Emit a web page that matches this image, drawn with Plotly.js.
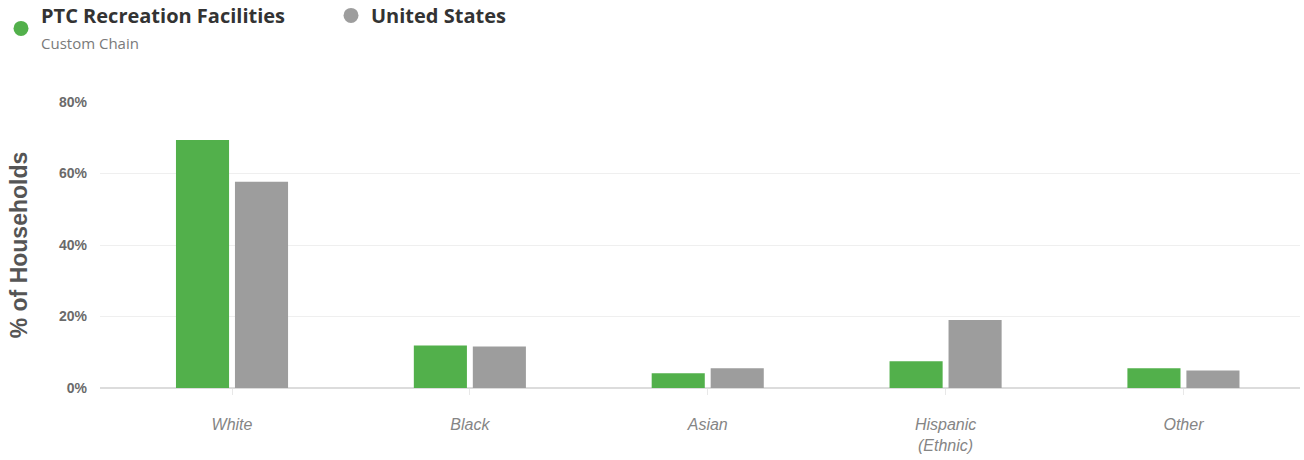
<!DOCTYPE html>
<html>
<head>
<meta charset="utf-8">
<script src="https://cdn.plot.ly/plotly-3.0.1.min.js"></script>
<style>html,body{margin:0;padding:0;background:#fff;}#chart{width:1304px;height:460px;}</style>
</head>
<body>
<div id="chart"></div>
<script>
const categories = ["White", "Black", "Asian", "Hispanic<br>(Ethnic)", "Other"];
const ptcValues = [69.4, 11.9, 4.1, 7.5, 5.5];
const usValues = [57.7, 11.6, 5.5, 19.0, 4.9];
const seriesNames = ["PTC Recreation Facilities", "United States"];
const seriesSub = ["Custom Chain", ""];
const yTickVals = [0, 20, 40, 60, 80];
const yTickText = ["0%", "20%", "40%", "60%", "80%"];

const green = "#52b04b";
const grey = "#9d9d9d";

const traces = [
  {type: "bar", x: categories, y: ptcValues, marker: {color: green}, showlegend: false, hoverinfo: "y"},
  {type: "bar", x: categories, y: usValues, marker: {color: grey}, showlegend: false, hoverinfo: "y"},
  {type: "scatter", mode: "markers", x: [null], y: [null], marker: {color: green, size: 15, symbol: "circle"},
   name: "<b>" + seriesNames[0] + "</b><br><span style='font-size:15px;font-weight:normal;color:#7a7a7a'>" + seriesSub[0] + "</span>"},
  {type: "scatter", mode: "markers", x: [null], y: [null], marker: {color: grey, size: 15, symbol: "circle"},
   name: "<b>" + seriesNames[1] + "</b>"}
];

const layout = {
  width: 1304, height: 460,
  margin: {l: 100, r: 4, t: 102, b: 72, autoexpand: false},
  paper_bgcolor: "#fff", plot_bgcolor: "#fff",
  barmode: "group", bargap: 0.504, bargroupgap: 0.1,
  font: {family: "Liberation Sans, Arial, sans-serif", color: "#666"},
  showlegend: true,
  legend: {
    orientation: "h", x: -0.0825, xanchor: "left",
    y: 1.371, yanchor: "top",
    font: {family: "Open Sans", size: 20, color: "#333"},
    entrywidth: 285, entrywidthmode: "pixels", itemsizing: "trace",
    bgcolor: "rgba(0,0,0,0)"
  },
  xaxis: {
    type: "category", range: [-0.555, 4.49],
    showgrid: false, zeroline: false,
    showline: false,
    ticks: "outside", ticklen: 6, tickcolor: "#e8e8e8", tickwidth: 1,
    tickfont: {family: "Liberation Sans, Arial, sans-serif", size: 16, color: "#858585", style: "italic"},
    ticklabelstandoff: 16,
    fixedrange: true
  },
  yaxis: {
    range: [0, 80], tickvals: yTickVals, ticktext: yTickText,
    showgrid: true, gridcolor: "#efefef", gridwidth: 1,
    zeroline: true, zerolinecolor: "#dcdcdc", zerolinewidth: 1.5,
    showline: false, ticks: "",
    tickfont: {family: "Liberation Sans, Arial, sans-serif", size: 14, color: "#6a6a6a", weight: "bold"},
    ticklabelstandoff: 12,
    title: {text: "<b>% of Households</b>", font: {family: "Liberation Sans, Arial, sans-serif", size: 23, color: "#555"}, standoff: 24},
    fixedrange: true
  }
};

Plotly.newPlot("chart", traces, layout, {displayModeBar: false, staticPlot: true});
</script>
</body>
</html>
